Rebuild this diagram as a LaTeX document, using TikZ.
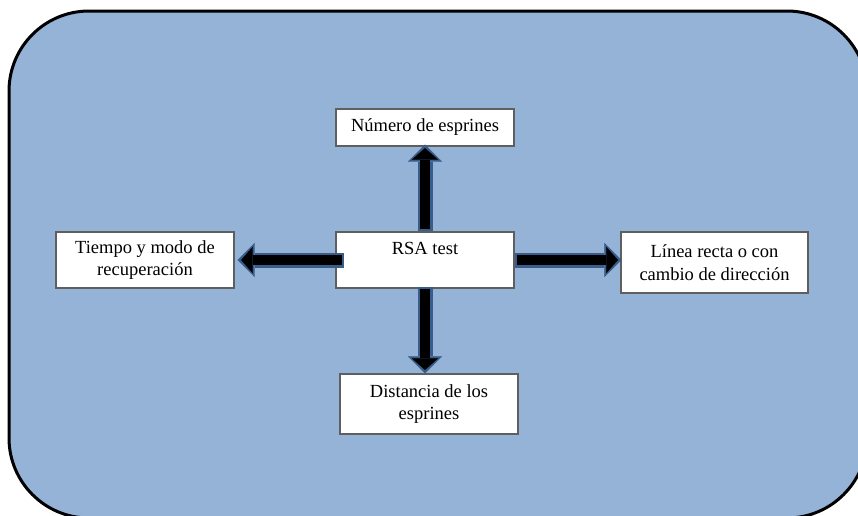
\documentclass[tikz,border=0pt]{standalone}
\usepackage{fontspec}
\setmainfont{Liberation Serif}
\usetikzlibrary{arrows.meta}
\definecolor{panelblue}{RGB}{149,179,215}
\definecolor{rimblue}{RGB}{56,93,138}
\definecolor{boxgray}{RGB}{95,95,95}
\tikzset{
	stage/.style={draw=boxgray, line width=1.2pt, fill=white, align=center, inner sep=2pt,
		minimum width=178pt, font=\fontsize{18.5}{22.5}\selectfont},
	flowrim/.style={draw=rimblue, line width=15pt,
		-{Triangle[length=17pt,width=34pt,line width=0.1pt]}},
	flowcore/.style={draw=black, line width=10pt,
		-{Triangle[length=11.5pt,width=26pt,line width=0.1pt]},
		shorten >=3.5pt, shorten <=2.5pt},
}
\begin{document}
\begin{tikzpicture}[x=1pt,y=-1pt]
		\useasboundingbox (0,0) rectangle (858,515);
		% background panel
		\draw[line width=3pt, fill=panelblue, rounded corners=80pt] (9,11) rectangle (867,518);
		% boxes
		\node[stage, minimum height=37pt] (num) at (425,127.5) {Número de esprines};
		\node[stage, minimum height=56pt] (rsa) at (425,260) {RSA test\\\mbox{}};
		\node[stage, minimum height=56pt] (tiempo) at (145,260) {Tiempo y modo de\\recuperación};
		\node[stage, minimum width=187pt, minimum height=61pt] (linea) at (714.5,262.5) {Línea recta o con\\cambio de dirección};
		\node[stage, minimum height=60pt] (dist) at (429,404) {Distancia de los\\esprines};
		% arrows
		\draw[flowrim] (rsa.north) -- ([yshift=2pt]num.south);
		\draw[flowcore] (rsa.north) -- ([yshift=2pt]num.south);
		\draw[flowrim] (rsa.east) -- ([xshift=1pt]rsa.east -| linea.west);
		\draw[flowcore] (rsa.east) -- ([xshift=1pt]rsa.east -| linea.west);
		\draw[flowrim] ([xshift=9pt]rsa.west) -- ([xshift=3pt]tiempo.east);
		\draw[flowcore] ([xshift=9pt]rsa.west) -- ([xshift=3pt]tiempo.east);
		\draw[flowrim] ([yshift=2pt]rsa.south) -- (rsa.south |- dist.north);
		\draw[flowcore] ([yshift=2pt]rsa.south) -- (rsa.south |- dist.north);
\end{tikzpicture}
\end{document}
